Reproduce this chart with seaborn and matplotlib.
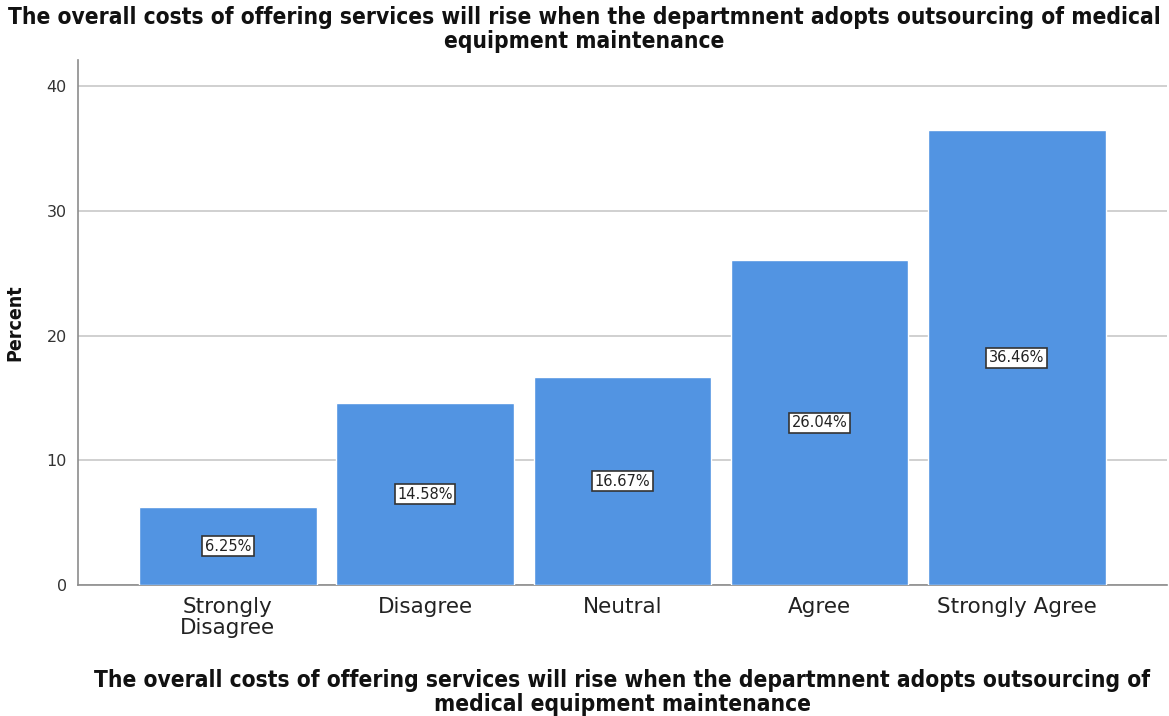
import matplotlib
matplotlib.use("Agg")
import matplotlib.pyplot as plt
import seaborn as sns
import pandas as pd

categories = ["Strongly\nDisagree", "Disagree", "Neutral", "Agree", "Strongly Agree"]
percents = [6.25, 14.58, 16.67, 26.04, 36.46]
yticks = [0, 10, 20, 30, 40]
title_text = ("The overall costs of offering services will rise when the departmnent adopts outsourcing of medical\n"
              "equipment maintenance")
xlabel_text = ("The overall costs of offering services will rise when the departmnent adopts outsourcing of\n"
               "medical equipment maintenance")

sns.set_style("white")
plt.rcParams["font.family"] = ["DejaVu Sans"]

df = pd.DataFrame({"category": categories, "percent": percents})

fig = plt.figure(figsize=(11.69, 7.16), dpi=100)
ax = fig.add_axes([0.0667, 0.183, 0.9313, 0.733])

sns.barplot(data=df, x="category", y="percent", color="#5294E2", saturation=1,
            width=0.9, ax=ax, zorder=3)

ax.set_xlim(-0.76, 4.76)
ax.set_ylim(0, 42.1)
ax.set_yticks(yticks)
ax.yaxis.grid(True, color="#C8C8C8", linewidth=1.2, zorder=0)
ax.set_axisbelow(True)
for side in ["top", "right"]:
    ax.spines[side].set_visible(False)
for side in ["left", "bottom"]:
    ax.spines[side].set_color("#8C8C8C")
    ax.spines[side].set_linewidth(1.2)

ax.tick_params(axis="y", labelsize=11.5, colors="#333333", length=0, pad=8)
ax.tick_params(axis="x", labelsize=15.5, colors="#222222", length=0, pad=9)
for lbl in ax.get_xticklabels():
    lbl.set_linespacing(1.05)

for bar, val in zip(ax.patches, percents):
    ax.text(bar.get_x() + bar.get_width() / 2, val / 2, f"{val:.2f}%",
            ha="center", va="center", fontsize=10.5, color="#222222", zorder=5,
            bbox=dict(boxstyle="square,pad=0.18", facecolor="white",
                      edgecolor="#333333", linewidth=1.2))

head_font = dict(fontweight="bold", fontstretch="condensed", family=["DejaVu Sans"],
                 color="#111111")
ax.set_ylabel("Percent", fontsize=14, labelpad=16, **head_font)
ax.set_xlabel(xlabel_text, fontsize=16.3, labelpad=22, linespacing=1.05, **head_font)
fig.suptitle(title_text, fontsize=16.3, y=0.992, x=0.5, linespacing=1.05, va="top", **head_font)

fig.savefig("out.png", dpi=100)
